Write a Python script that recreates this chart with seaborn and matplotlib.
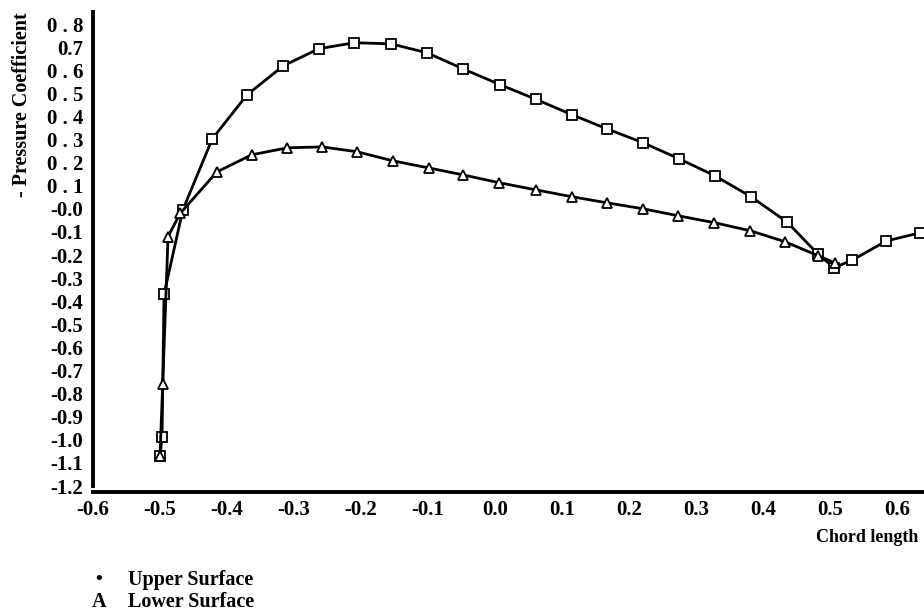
import pandas as pd
import matplotlib.pyplot as plt
import seaborn as sns

# ================= data =================
upper_x = [-0.500, -0.497, -0.494, -0.466, -0.422, -0.370, -0.316, -0.263, -0.210,
           -0.155, -0.101, -0.048, 0.007, 0.061, 0.115, 0.167, 0.221, 0.275,
           0.328, 0.382, 0.436, 0.482, 0.506, 0.533, 0.584, 0.634]
upper_y = [-1.07, -0.99, -0.37, -0.005, 0.303, 0.494, 0.619, 0.693, 0.719,
           0.714, 0.675, 0.606, 0.538, 0.474, 0.407, 0.346, 0.286, 0.216,
           0.143, 0.052, -0.058, -0.197, -0.255, -0.222, -0.139, -0.104]

lower_x = [-0.500, -0.496, -0.488, -0.470, -0.415, -0.363, -0.310, -0.258, -0.206,
           -0.153, -0.099, -0.048, 0.006, 0.061, 0.115, 0.167, 0.221, 0.273,
           0.327, 0.381, 0.433, 0.482, 0.507]
lower_y = [-1.07, -0.76, -0.12, -0.02, 0.160, 0.234, 0.264, 0.268, 0.247,
           0.208, 0.177, 0.147, 0.113, 0.082, 0.052, 0.026, 0.000, -0.030,
           -0.060, -0.095, -0.143, -0.203, -0.234]

x_ticks = [-0.6, -0.5, -0.4, -0.3, -0.2, -0.1, 0.0, 0.1, 0.2, 0.3, 0.4, 0.5, 0.6]
x_tick_labels = ['-0.6', '-0.5', '-0.4', '-0.3', '-0.2', '-0.1', '0.0',
                 '0.1', '0.2', '0.3', '0.4', '0.5', '0.6']
y_ticks = [-1.2, -1.1, -1.0, -0.9, -0.8, -0.7, -0.6, -0.5, -0.4, -0.3, -0.2,
           -0.1, 0.0, 0.1, 0.2, 0.3, 0.4, 0.5, 0.6, 0.7, 0.8]
y_tick_labels = ['-1.2', '-1.1', '-1.0', '-0.9', '-0.8', '-0.7', '-0.6', '-0.5',
                 '-0.4', '-0.3', '-0.2', '-0.1', '-0.0', '0 . 1', '0 . 2', '0 . 3',
                 '0 . 4', '0 . 5', '0 . 6', '0.7', '0 . 8']
# =========================================

sns.set_theme(style='white', rc={'text.color': 'black', 'axes.labelcolor': 'black',
                                 'xtick.color': 'black', 'ytick.color': 'black',
                                 'axes.edgecolor': 'black'})
plt.rcParams['font.family'] = ['Liberation Serif', 'DejaVu Serif']
plt.rcParams['font.weight'] = 'bold'

df_up = pd.DataFrame({'x': upper_x, 'y': upper_y})
df_lo = pd.DataFrame({'x': lower_x, 'y': lower_y})

fig = plt.figure(figsize=(9.24, 6.15), dpi=100)
ax = fig.add_axes([93 / 924, 1 - 486 / 615, 1 - 93 / 924, 474 / 615])

line_kw = dict(color='black', linewidth=2.0, markersize=7,
               markerfacecolor='white', markeredgecolor='black',
               markeredgewidth=1.3, sort=False, estimator=None)
sns.lineplot(data=df_up, x='x', y='y', marker='s', ax=ax, **line_kw)
sns.lineplot(data=df_lo, x='x', y='y', marker='^', ax=ax, **line_kw)

ax.set_xlim(-0.6, 0.64)
ax.set_ylim(-1.2, 0.852)

ax.set_xticks(x_ticks)
ax.set_xticklabels(x_tick_labels)
ax.set_yticks(y_ticks)
ax.set_yticklabels(y_tick_labels)
for lab in ax.get_xticklabels() + ax.get_yticklabels():
    lab.set_fontweight('bold')

ax.tick_params(axis='x', direction='in', length=9, width=2, pad=6,
               labelsize=15, colors='black')
ax.tick_params(axis='y', direction='inout', length=4, width=2, pad=5,
               labelsize=15, colors='black')

for side in ['top', 'right']:
    ax.spines[side].set_visible(False)
for side in ['left', 'bottom']:
    ax.spines[side].set_color('black')
    ax.spines[side].set_linewidth(2.8)
ax.spines['bottom'].set_position(('outward', 4))

ax.set_xlabel('')
ax.set_ylabel('')

fig.text(22 / 924, 1 - 105 / 615, '- Pressure Coefficient', rotation=90,
         ha='center', va='center', fontsize=14.5, fontweight='bold')
fig.text(918 / 924, 1 - 538 / 615, 'Chord length', ha='right', va='center',
         fontsize=13, fontweight='bold')

fig.text(95 / 924, 1 - 580 / 615, '\u2022', ha='left', va='center',
         fontsize=14, fontweight='bold')
fig.text(128 / 924, 1 - 580 / 615, 'Upper Surface', ha='left', va='center',
         fontsize=14.5, fontweight='bold')
fig.text(92 / 924, 1 - 602 / 615, 'A', ha='left', va='center',
         fontsize=14.5, fontweight='bold')
fig.text(128 / 924, 1 - 602 / 615, 'Lower Surface', ha='left', va='center',
         fontsize=14.5, fontweight='bold')

fig.savefig('out.png', dpi=100)
